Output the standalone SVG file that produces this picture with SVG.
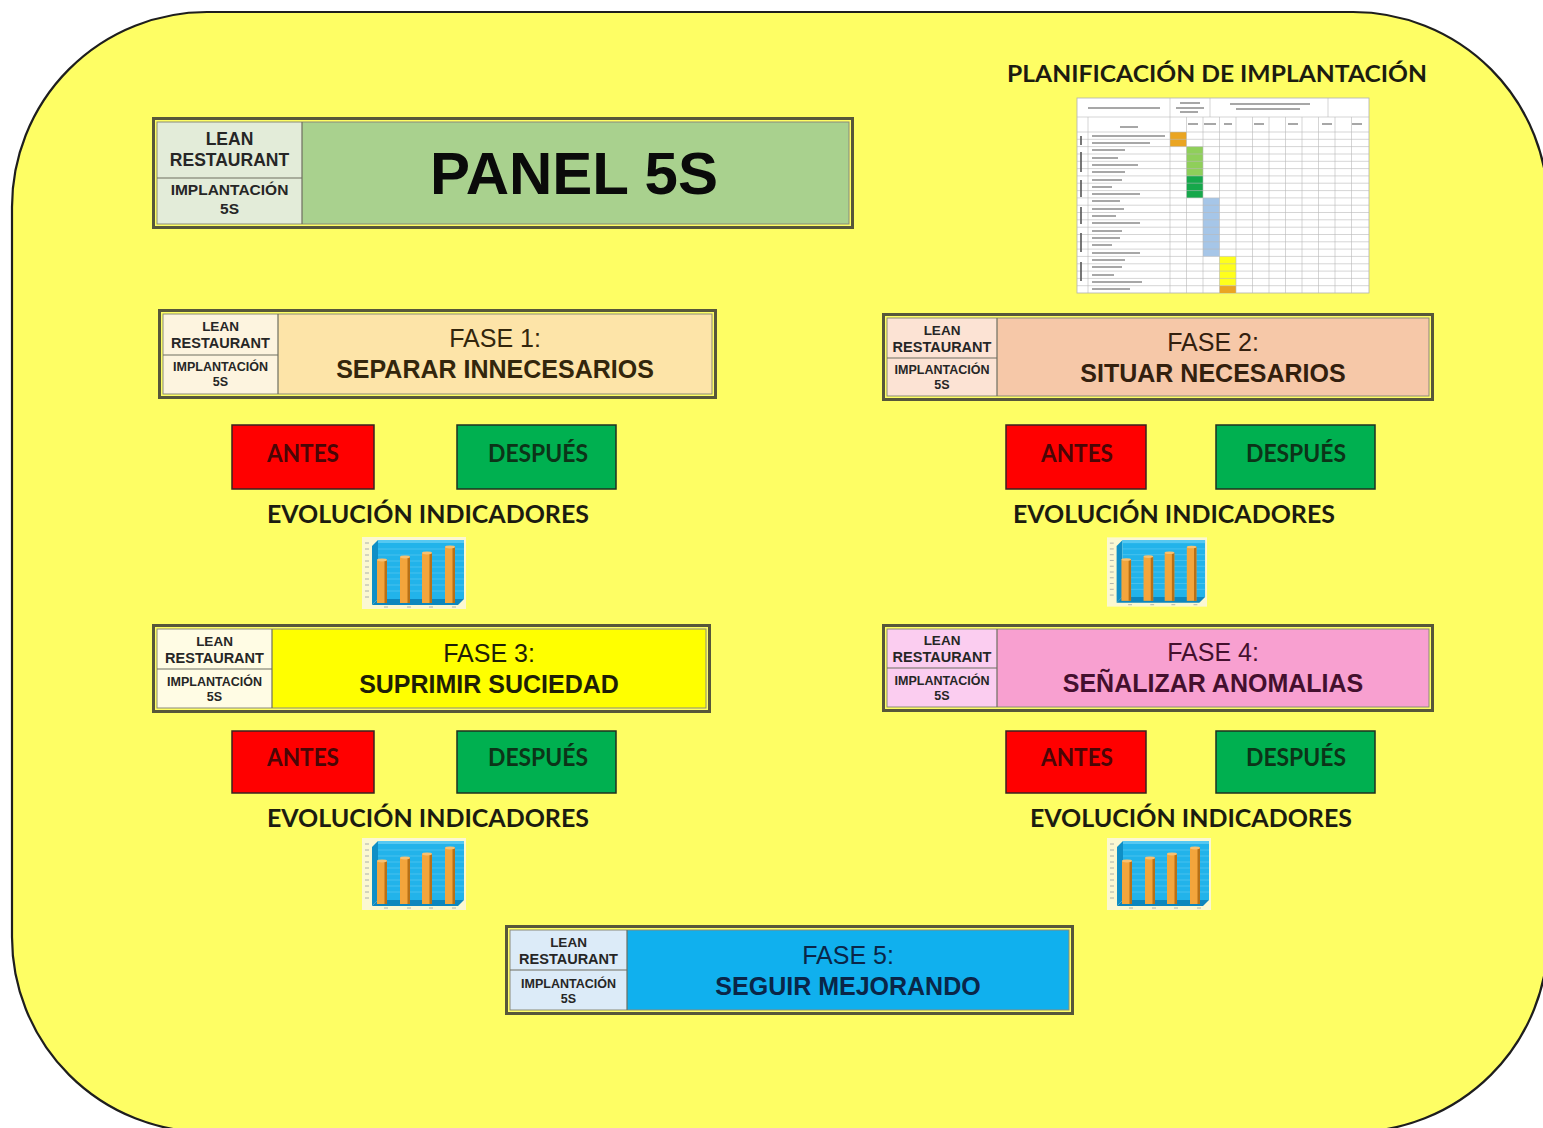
<svg xmlns="http://www.w3.org/2000/svg" width="1543" height="1128" viewBox="0 0 1543 1128">
  <style>
    .frame { fill: none; stroke: #57573a; stroke-width: 3; }
    .inner { fill: none; stroke: #8a8a7a; stroke-width: 1; }
    .div { stroke: #6e6e60; stroke-width: 1.2; }
    .lr { font-family: "Liberation Sans", Arial, sans-serif; font-weight: bold; fill: #262626; text-anchor: middle; }
    .ph1 { font-family: "Liberation Sans", Arial, sans-serif; font-size: 25px; text-anchor: middle; }
    .ph2 { font-family: "Liberation Sans", Arial, sans-serif; font-size: 25px; font-weight: bold; text-anchor: middle; }
    .btn-r { fill: #ff0000; stroke: #3a2020; stroke-width: 1.5; }
    .btn-g { fill: #00b050; stroke: #1e3020; stroke-width: 1.5; }
    .btxt { font-family: Lato, "Open Sans", sans-serif; font-weight: bold; font-size: 24px; text-anchor: middle; }
    .evo { font-family: Lato, "Open Sans", sans-serif; font-weight: bold; font-size: 25px; fill: #1c1c10; text-anchor: middle; }
    .grid { stroke: #b8b8b8; stroke-width: 0.6; fill: none; }
    .smudge { stroke: #8a8a8a; stroke-width: 1.5; }
  </style>
  <defs>
    <filter id="soft" x="-5%" y="-5%" width="110%" height="110%">
      <feGaussianBlur stdDeviation="0.6"/>
    </filter>
    <!-- small 3D bar chart icon -->
    <symbol id="chart" viewBox="0 0 104 72">
      <rect x="0" y="0" width="104" height="72" fill="#fbf8d2"/>
      <g stroke="#9aa0a0" stroke-width="0.8">
        <path d="M3 6H7M3 12H7M3 18H7M3 24H7M3 30H7M3 36H7M3 42H7M3 48H7M3 54H7M3 60H7"/>
        <path d="M22 70H26M45 70H49M67 70H71M90 70H94"/>
      </g>
      <polygon points="10,9 16,3 16,62 10,68" fill="#0f8fc6"/>
      <rect x="16" y="3" width="86" height="59" fill="#22b3ea"/>
      <rect x="16" y="3" width="86" height="3" fill="#55c8f2"/>
      <g stroke="#62cdf3" stroke-width="0.6">
        <path d="M16 12H102M16 18H102M16 24H102M16 30H102M16 36H102M16 42H102M16 48H102M16 54H102"/>
      </g>
      <polygon points="10,68 16,62 102,62 96,68" fill="#0d86bd"/>
      <g>
        <rect x="15" y="23" width="10" height="43" fill="#f3a53c"/>
        <rect x="22.5" y="23" width="2.5" height="43" fill="#b87016"/>
        <ellipse cx="20" cy="23" rx="5" ry="1.4" fill="#f8c070"/>
        <rect x="38" y="20" width="10" height="46" fill="#f3a53c"/>
        <rect x="45.5" y="20" width="2.5" height="46" fill="#b87016"/>
        <ellipse cx="43" cy="20" rx="5" ry="1.4" fill="#f8c070"/>
        <rect x="60" y="16" width="10" height="50" fill="#f3a53c"/>
        <rect x="67.5" y="16" width="2.5" height="50" fill="#b87016"/>
        <ellipse cx="65" cy="16" rx="5" ry="1.4" fill="#f8c070"/>
        <rect x="83" y="10" width="10" height="56" fill="#f3a53c"/>
        <rect x="90.5" y="10" width="2.5" height="56" fill="#b87016"/>
        <ellipse cx="88" cy="10" rx="5" ry="1.4" fill="#f8c070"/>
      </g>
    </symbol>
  </defs>

  <!-- page background -->
  <rect x="0" y="0" width="1543" height="1128" fill="#ffffff"/>
  <rect id="board" x="12" y="12" width="1536" height="1120" rx="195" ry="195" fill="#fefe64" stroke="#1e1e1e" stroke-width="2.2"/>

  <!-- title panel -->
  <g id="panel-title">
    <rect x="157" y="122" width="145" height="102" fill="#e3ecd9"/>
    <rect x="302" y="122" width="547" height="102" fill="#a9d18e"/>
    <rect class="inner" x="157" y="122" width="692" height="102"/>
    <rect class="frame" x="153.5" y="118.5" width="699" height="109"/>
    <line class="div" x1="302" y1="122" x2="302" y2="224"/>
    <line class="div" x1="157" y1="178" x2="302" y2="178"/>
    <text class="lr" x="229.5" y="145" font-size="17.5">LEAN</text>
    <text class="lr" x="229.5" y="166" font-size="17.5">RESTAURANT</text>
    <text class="lr" x="229.5" y="195" font-size="15.5">IMPLANTACIÓN</text>
    <text class="lr" x="229.5" y="214" font-size="15.5">5S</text>
    <text x="574" y="194" font-family="Liberation Sans, Arial, sans-serif" font-weight="bold" font-size="60" fill="#0a0a0a" text-anchor="middle">PANEL 5S</text>
  </g>

  <!-- implementation plan thumbnail -->
  <g id="plan">
    <text x="1217" y="82" font-family="Lato, 'Open Sans', sans-serif" font-weight="bold" font-size="23" fill="#1c1c10" text-anchor="middle" textLength="420" lengthAdjust="spacingAndGlyphs">PLANIFICACIÓN DE IMPLANTACIÓN</text>
    <g filter="url(#soft)">
      <rect x="1077" y="98" width="292" height="195" fill="#ffffff" stroke="#b0b0b0" stroke-width="0.8"/>
      <rect x="1170" y="132" width="16.5" height="14.6" fill="#eaa520"/>
      <rect x="1186.5" y="146.6" width="16.5" height="29.3" fill="#8fcf5a"/>
      <rect x="1186.5" y="175.9" width="16.5" height="22" fill="#14a84c"/>
      <rect x="1203" y="197.9" width="16.5" height="58.5" fill="#a6c6e8"/>
      <rect x="1219.5" y="256.4" width="16.5" height="29.3" fill="#ffff1e"/>
      <rect x="1219.5" y="285.7" width="16.5" height="7.3" fill="#eaa520"/>
      <path class="grid" d="M1077 117H1369M1077 132H1369M1077 139.3H1369M1077 146.6H1369M1077 154H1369M1077 161.3H1369M1077 168.6H1369M1077 175.9H1369M1077 183.2H1369M1077 190.6H1369M1077 197.9H1369M1077 205.2H1369M1077 212.5H1369M1077 219.8H1369M1077 227.2H1369M1077 234.5H1369M1077 241.8H1369M1077 249.1H1369M1077 256.4H1369M1077 263.8H1369M1077 271.1H1369M1077 278.4H1369M1077 285.7H1369"/>
      <path class="grid" d="M1170 98V293M1210 98V117M1328 98V117M1088 117V293M1186.5 117V293M1203 117V293M1219.5 117V293M1236 117V293M1252.5 117V293M1269 117V293M1285.5 117V293M1302 117V293M1318.5 117V293M1335 117V293M1351.5 117V293"/>
      <g class="smudge">
        <path d="M1088 108H1160M1180 103H1200M1176 108H1204M1180 112H1198M1230 104H1310M1236 109H1300"/>
        <path d="M1120 127H1138M1188 124H1198M1204 124H1216M1224 124H1232M1254 124H1264M1288 124H1298M1322 124H1332M1352 124H1362"/>
        <path d="M1092 136H1165M1092 143H1150M1092 150H1125M1092 158H1118M1092 165H1138M1092 172H1125M1092 180H1122M1092 187H1112M1092 194H1140M1092 201H1120M1092 209H1124M1092 216H1116M1092 223H1140M1092 231H1122M1092 238H1120M1092 245H1112M1092 253H1140M1092 260H1125M1092 267H1122M1092 275H1114M1092 282H1142M1092 289H1130"/>
      </g>
      <g stroke="#555" stroke-width="1.6">
        <path d="M1081 136V145M1081 152V172M1081 180V197M1081 207V224M1081 233V252M1081 262V281"/>
      </g>
    </g>
  </g>

  <!-- phase 1 -->
  <g id="fase-1">
    <rect x="163" y="314" width="115" height="80" fill="#fdf4df"/>
    <rect x="278" y="314" width="434" height="80" fill="#fde4a8"/>
    <rect class="inner" x="163" y="314" width="549" height="80"/>
    <rect class="frame" x="159.5" y="310.5" width="556" height="87"/>
    <line class="div" x1="278" y1="314" x2="278" y2="394"/>
    <line class="div" x1="163" y1="355" x2="278" y2="355"/>
    <text class="lr" x="220.5" y="331" font-size="13.5">LEAN</text>
    <text class="lr" x="220.5" y="348" font-size="14.5">RESTAURANT</text>
    <text class="lr" x="220.5" y="371" font-size="12.5">IMPLANTACIÓN</text>
    <text class="lr" x="220.5" y="386" font-size="12.5">5S</text>
    <text class="ph1" x="495" y="347" fill="#33260c">FASE 1:</text>
    <text class="ph2" x="495" y="378" fill="#33260c">SEPARAR INNECESARIOS</text>
  </g>

  <!-- phase 2 -->
  <g id="fase-2">
    <rect x="887" y="318" width="110" height="78" fill="#fce3d4"/>
    <rect x="997" y="318" width="432" height="78" fill="#f6c8a8"/>
    <rect class="inner" x="887" y="318" width="542" height="78"/>
    <rect class="frame" x="883.5" y="314.5" width="549" height="85"/>
    <line class="div" x1="997" y1="318" x2="997" y2="396"/>
    <line class="div" x1="887" y1="358" x2="997" y2="358"/>
    <text class="lr" x="942" y="335" font-size="13.5">LEAN</text>
    <text class="lr" x="942" y="352" font-size="14.5">RESTAURANT</text>
    <text class="lr" x="942" y="374" font-size="12.5">IMPLANTACIÓN</text>
    <text class="lr" x="942" y="389" font-size="12.5">5S</text>
    <text class="ph1" x="1213" y="351" fill="#33200e">FASE 2:</text>
    <text class="ph2" x="1213" y="382" fill="#33200e">SITUAR NECESARIOS</text>
  </g>

  <!-- phase 3 -->
  <g id="fase-3">
    <rect x="157" y="629" width="115" height="79" fill="#fffce4"/>
    <rect x="272" y="629" width="434" height="79" fill="#ffff00"/>
    <rect class="inner" x="157" y="629" width="549" height="79"/>
    <rect class="frame" x="153.5" y="625.5" width="556" height="86"/>
    <line class="div" x1="272" y1="629" x2="272" y2="708"/>
    <line class="div" x1="157" y1="669" x2="272" y2="669"/>
    <text class="lr" x="214.5" y="646" font-size="13.5">LEAN</text>
    <text class="lr" x="214.5" y="663" font-size="14.5">RESTAURANT</text>
    <text class="lr" x="214.5" y="686" font-size="12.5">IMPLANTACIÓN</text>
    <text class="lr" x="214.5" y="701" font-size="12.5">5S</text>
    <text class="ph1" x="489" y="662" fill="#1e1e06">FASE 3:</text>
    <text class="ph2" x="489" y="693" fill="#1e1e06">SUPRIMIR SUCIEDAD</text>
  </g>

  <!-- phase 4 -->
  <g id="fase-4">
    <rect x="887" y="629" width="110" height="78" fill="#fbcdf0"/>
    <rect x="997" y="629" width="432" height="78" fill="#f8a0d0"/>
    <rect class="inner" x="887" y="629" width="542" height="78"/>
    <rect class="frame" x="883.5" y="625.5" width="549" height="85"/>
    <line class="div" x1="997" y1="629" x2="997" y2="707"/>
    <line class="div" x1="887" y1="668" x2="997" y2="668"/>
    <text class="lr" x="942" y="645" font-size="13.5">LEAN</text>
    <text class="lr" x="942" y="662" font-size="14.5">RESTAURANT</text>
    <text class="lr" x="942" y="685" font-size="12.5">IMPLANTACIÓN</text>
    <text class="lr" x="942" y="700" font-size="12.5">5S</text>
    <text class="ph1" x="1213" y="661" fill="#44102e">FASE 4:</text>
    <text class="ph2" x="1213" y="692" fill="#44102e">SEÑALIZAR ANOMALIAS</text>
  </g>

  <!-- phase 5 -->
  <g id="fase-5">
    <rect x="510" y="930" width="117" height="80" fill="#dcebf8"/>
    <rect x="627" y="930" width="442" height="80" fill="#10b0ee"/>
    <rect class="inner" x="510" y="930" width="559" height="80"/>
    <rect class="frame" x="506.5" y="926.5" width="566" height="87"/>
    <line class="div" x1="627" y1="930" x2="627" y2="1010"/>
    <line class="div" x1="510" y1="970" x2="627" y2="970"/>
    <text class="lr" x="568.5" y="947" font-size="13.5">LEAN</text>
    <text class="lr" x="568.5" y="964" font-size="14.5">RESTAURANT</text>
    <text class="lr" x="568.5" y="988" font-size="12.5">IMPLANTACIÓN</text>
    <text class="lr" x="568.5" y="1003" font-size="12.5">5S</text>
    <text class="ph1" x="848" y="964" fill="#0a2648">FASE 5:</text>
    <text class="ph2" x="848" y="995" fill="#0a2648">SEGUIR MEJORANDO</text>
  </g>

  <!-- before / after buttons -->
  <g id="antes-1">
    <rect class="btn-r" x="232" y="425" width="142" height="64"/>
    <text class="btxt" x="303" y="462" fill="#4a0606" textLength="72" lengthAdjust="spacingAndGlyphs">ANTES</text>
  </g>
  <g id="despues-1">
    <rect class="btn-g" x="457" y="425" width="159" height="64"/>
    <text class="btxt" x="538" y="462" fill="#0c3418" textLength="100" lengthAdjust="spacingAndGlyphs">DESPUÉS</text>
  </g>
  <g id="antes-2">
    <rect class="btn-r" x="1006" y="425" width="140" height="64"/>
    <text class="btxt" x="1077" y="462" fill="#4a0606" textLength="72" lengthAdjust="spacingAndGlyphs">ANTES</text>
  </g>
  <g id="despues-2">
    <rect class="btn-g" x="1216" y="425" width="159" height="64"/>
    <text class="btxt" x="1296" y="462" fill="#0c3418" textLength="100" lengthAdjust="spacingAndGlyphs">DESPUÉS</text>
  </g>
  <g id="antes-3">
    <rect class="btn-r" x="232" y="731" width="142" height="62"/>
    <text class="btxt" x="303" y="766" fill="#4a0606" textLength="72" lengthAdjust="spacingAndGlyphs">ANTES</text>
  </g>
  <g id="despues-3">
    <rect class="btn-g" x="457" y="731" width="159" height="62"/>
    <text class="btxt" x="538" y="766" fill="#0c3418" textLength="100" lengthAdjust="spacingAndGlyphs">DESPUÉS</text>
  </g>
  <g id="antes-4">
    <rect class="btn-r" x="1006" y="731" width="140" height="62"/>
    <text class="btxt" x="1077" y="766" fill="#4a0606" textLength="72" lengthAdjust="spacingAndGlyphs">ANTES</text>
  </g>
  <g id="despues-4">
    <rect class="btn-g" x="1216" y="731" width="159" height="62"/>
    <text class="btxt" x="1296" y="766" fill="#0c3418" textLength="100" lengthAdjust="spacingAndGlyphs">DESPUÉS</text>
  </g>

  <!-- indicator trends -->
  <g id="indicadores-1">
    <text class="evo" x="428" y="523" textLength="322" lengthAdjust="spacingAndGlyphs">EVOLUCIÓN INDICADORES</text>
    <use href="#chart" x="362" y="537" width="104" height="72"/>
  </g>
  <g id="indicadores-2">
    <text class="evo" x="1174" y="523" textLength="322" lengthAdjust="spacingAndGlyphs">EVOLUCIÓN INDICADORES</text>
    <use href="#chart" x="1107" y="537" width="100" height="70"/>
  </g>
  <g id="indicadores-3">
    <text class="evo" x="428" y="827" textLength="322" lengthAdjust="spacingAndGlyphs">EVOLUCIÓN INDICADORES</text>
    <use href="#chart" x="362" y="838" width="104" height="72"/>
  </g>
  <g id="indicadores-4">
    <text class="evo" x="1191" y="827" textLength="322" lengthAdjust="spacingAndGlyphs">EVOLUCIÓN INDICADORES</text>
    <use href="#chart" x="1107" y="838" width="104" height="72"/>
  </g>
</svg>
